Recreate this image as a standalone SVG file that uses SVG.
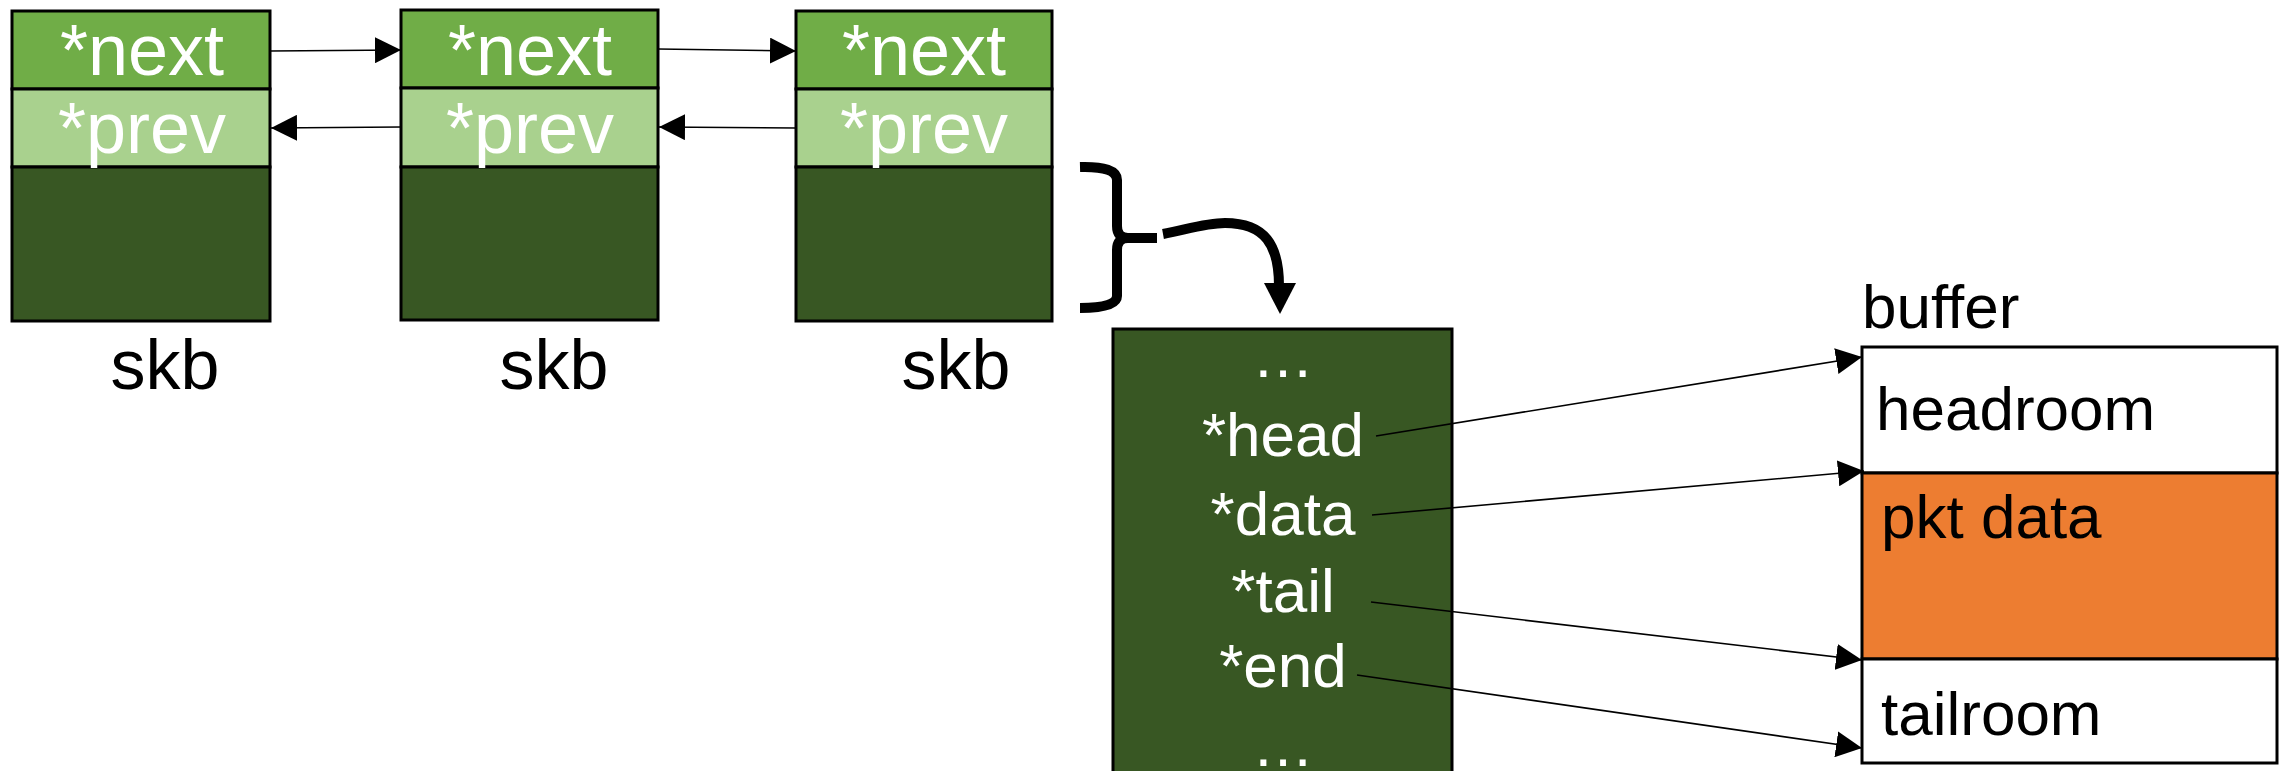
<svg xmlns="http://www.w3.org/2000/svg" width="2285" height="771" viewBox="0 0 2285 771">
  <style>
    .box { stroke: #000; stroke-width: 3; }
    .next { fill: #70AD47; }
    .prev { fill: #A9D18E; }
    .body { fill: #385723; }
    .wt { fill: #fff; font-family: "Liberation Sans", Arial, sans-serif; text-anchor: middle; }
    .bk { fill: #000; font-family: "Liberation Sans", Arial, sans-serif; }
    .conn { stroke: #000; stroke-width: 1.6; fill: none; }
    .thick { stroke: #000; stroke-width: 10; fill: none; stroke-linejoin: round; }
  </style>
  <defs>
    <marker id="arrow" viewBox="0 0 26 26" refX="26" refY="13" markerWidth="26" markerHeight="26" markerUnits="userSpaceOnUse" orient="auto">
      <path d="M0,0 L26,13 L0,26 z" fill="#000"/>
    </marker>
  </defs>

  <rect width="2285" height="771" fill="#fff"/>

  <!-- skb list nodes -->
  <g id="skb1">
    <rect class="box next" x="12" y="11" width="258" height="78"/>
    <rect class="box prev" x="12" y="89" width="258" height="78"/>
    <rect class="box body" x="12" y="167" width="258" height="154"/>
    <text class="wt" x="142" y="75" font-size="72">*next</text>
    <text class="wt" x="142" y="153" font-size="72">*prev</text>
    <text class="bk" x="165" y="389" font-size="70" text-anchor="middle">skb</text>
  </g>
  <g id="skb2">
    <rect class="box next" x="401" y="10" width="257" height="78"/>
    <rect class="box prev" x="401" y="88" width="257" height="79"/>
    <rect class="box body" x="401" y="167" width="257" height="153"/>
    <text class="wt" x="530" y="75" font-size="72">*next</text>
    <text class="wt" x="530" y="153" font-size="72">*prev</text>
    <text class="bk" x="554" y="389" font-size="70" text-anchor="middle">skb</text>
  </g>
  <g id="skb3">
    <rect class="box next" x="796" y="11" width="256" height="78"/>
    <rect class="box prev" x="796" y="89" width="256" height="78"/>
    <rect class="box body" x="796" y="167" width="256" height="154"/>
    <text class="wt" x="924" y="75" font-size="72">*next</text>
    <text class="wt" x="924" y="153" font-size="72">*prev</text>
    <text class="bk" x="956" y="389" font-size="70" text-anchor="middle">skb</text>
  </g>

  <!-- expanded sk_buff fields -->
  <g id="skb-fields">
    <rect class="box body" x="1113" y="329" width="339" height="460"/>
    <text class="wt" x="1283" y="377" font-size="62">…</text>
    <text class="wt" x="1283" y="456" font-size="62">*head</text>
    <text class="wt" x="1283" y="535" font-size="62">*data</text>
    <text class="wt" x="1283" y="612" font-size="62">*tail</text>
    <text class="wt" x="1283" y="687" font-size="62">*end</text>
    <text class="wt" x="1283" y="766" font-size="62">…</text>
  </g>

  <!-- packet buffer -->
  <g id="buffer">
    <text class="bk" x="1862" y="328" font-size="62">buffer</text>
    <rect class="box" x="1862" y="347" width="415" height="126" fill="#fff"/>
    <rect class="box" x="1862" y="473" width="415" height="186" fill="#ED7D31"/>
    <rect class="box" x="1862" y="659" width="415" height="104" fill="#fff"/>
    <text class="bk" x="1876" y="430" font-size="62">headroom</text>
    <text class="bk" x="1881" y="538" font-size="62">pkt data</text>
    <text class="bk" x="1881" y="735" font-size="62">tailroom</text>
  </g>

  <!-- connectors -->
  <g id="connectors">
    <line class="conn" x1="270" y1="51" x2="401" y2="50" marker-end="url(#arrow)"/>
    <line class="conn" x1="401" y1="127" x2="271" y2="128" marker-end="url(#arrow)"/>
    <line class="conn" x1="658" y1="49" x2="796" y2="51" marker-end="url(#arrow)"/>
    <line class="conn" x1="796" y1="128" x2="659" y2="127" marker-end="url(#arrow)"/>

    <!-- brace over the third skb and the arrow into its fields -->
    <path class="thick" d="M1080,167 Q1117,166 1117,180 V226 Q1117,238 1128,238 H1157 M1128,238 Q1117,238 1117,250 V296 Q1117,308 1080,308"/>
    <path class="thick" d="M1163,234 C1185,230 1205,223 1225,223 C1265,223 1279,245 1279,286"/>
    <path d="M1264,283 L1296,283 L1280,314 z" fill="#000"/>

    <line class="conn" x1="1376" y1="436" x2="1862" y2="357" marker-end="url(#arrow)"/>
    <line class="conn" x1="1372" y1="515" x2="1864" y2="471" marker-end="url(#arrow)"/>
    <line class="conn" x1="1371" y1="602" x2="1862" y2="660" marker-end="url(#arrow)"/>
    <line class="conn" x1="1357" y1="675" x2="1862" y2="748" marker-end="url(#arrow)"/>
  </g>
</svg>
